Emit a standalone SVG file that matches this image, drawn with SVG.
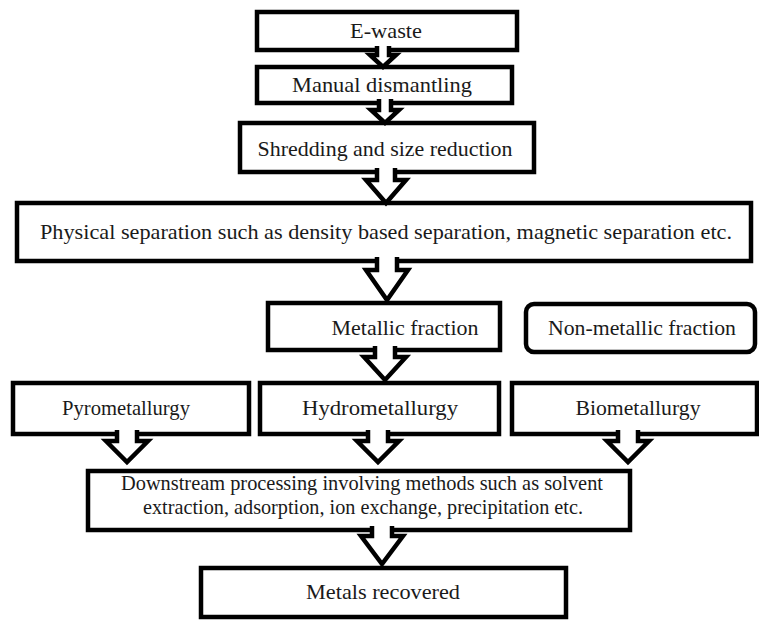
<svg xmlns="http://www.w3.org/2000/svg" width="759" height="620" viewBox="0 0 759 620">
<style>
.box{fill:#fff;stroke:#000;stroke-width:4.5}
.arr{fill:#fff;stroke:#000;stroke-width:4.5;stroke-linejoin:miter}
text{font-family:"Liberation Serif","Times New Roman","DejaVu Serif",serif;font-size:22px;fill:#1a1a1a;text-anchor:middle}
</style>
<rect width="759" height="620" fill="#fff"/>
<g id="n-ewaste"><rect class="box" x="257" y="12" width="260" height="38"/><text x="386" y="38" textLength="72" lengthAdjust="spacingAndGlyphs">E-waste</text></g>
<g id="n-manual"><rect class="box" x="257" y="67" width="255" height="36"/><text x="382" y="92" textLength="180" lengthAdjust="spacingAndGlyphs">Manual dismantling</text></g>
<g id="n-shred"><rect class="box" x="240" y="123" width="294" height="49"/><text x="385" y="156" textLength="255" lengthAdjust="spacingAndGlyphs">Shredding and size reduction</text></g>
<g id="n-phys"><rect class="box" x="17" y="203" width="734" height="58"/><text x="386" y="239" textLength="692" lengthAdjust="spacingAndGlyphs">Physical separation such as density based separation, magnetic separation  etc.</text></g>
<g id="n-metal"><rect class="box" x="268" y="303" width="232" height="47"/><text x="405" y="335" textLength="147" lengthAdjust="spacingAndGlyphs">Metallic fraction</text></g>
<g id="n-nonmetal"><rect class="box" x="526" y="304" width="229" height="48" rx="8"/><text x="642" y="335" textLength="188" lengthAdjust="spacingAndGlyphs">Non-metallic fraction</text></g>
<g id="n-pyro"><rect class="box" x="13" y="383" width="236" height="51"/><text x="126" y="415" textLength="128" lengthAdjust="spacingAndGlyphs">Pyrometallurgy</text></g>
<g id="n-hydro"><rect class="box" x="260" y="383" width="239" height="51"/><text x="380" y="415" textLength="156" lengthAdjust="spacingAndGlyphs">Hydrometallurgy</text></g>
<g id="n-bio"><rect class="box" x="512" y="383" width="245" height="51"/><text x="638" y="415" textLength="125" lengthAdjust="spacingAndGlyphs">Biometallurgy</text></g>
<g id="n-down"><rect class="box" x="88" y="471" width="542" height="59"/><text x="362" y="490" textLength="482" lengthAdjust="spacingAndGlyphs">Downstream processing involving methods such as solvent</text><text x="363" y="514" textLength="440" lengthAdjust="spacingAndGlyphs">extraction, adsorption, ion exchange, precipitation etc.</text></g>
<g id="n-metals"><rect class="box" x="201" y="568" width="365" height="49"/><text x="383" y="599" textLength="154" lengthAdjust="spacingAndGlyphs">Metals recovered</text></g>
<g id="connectors">
<path class="arr" d="M377,46 V55 H370 L383,67 L396,55 H389 V46"/>
<path class="arr" d="M379,99 V110 H371 L385,123 L399,110 H391 V99"/>
<path class="arr" d="M377,168 V180 H366 L386,203 L406,180 H395 V168"/>
<path class="arr" d="M377,257 V270 H366 L387,300 L408,270 H397 V257"/>
<path class="arr" d="M375,346 V357 H364 L385,380 L406,357 H395 V346"/>
<path class="arr" d="M117,430 V441 H106 L127,462 L148,441 H137 V430"/>
<path class="arr" d="M368,430 V441 H357 L378,462 L399,441 H388 V430"/>
<path class="arr" d="M618,430 V441 H607 L628,462 L649,441 H638 V430"/>
<path class="arr" d="M372,526 V536 H361 L382,564 L403,536 H392 V526"/>
</g>
</svg>
